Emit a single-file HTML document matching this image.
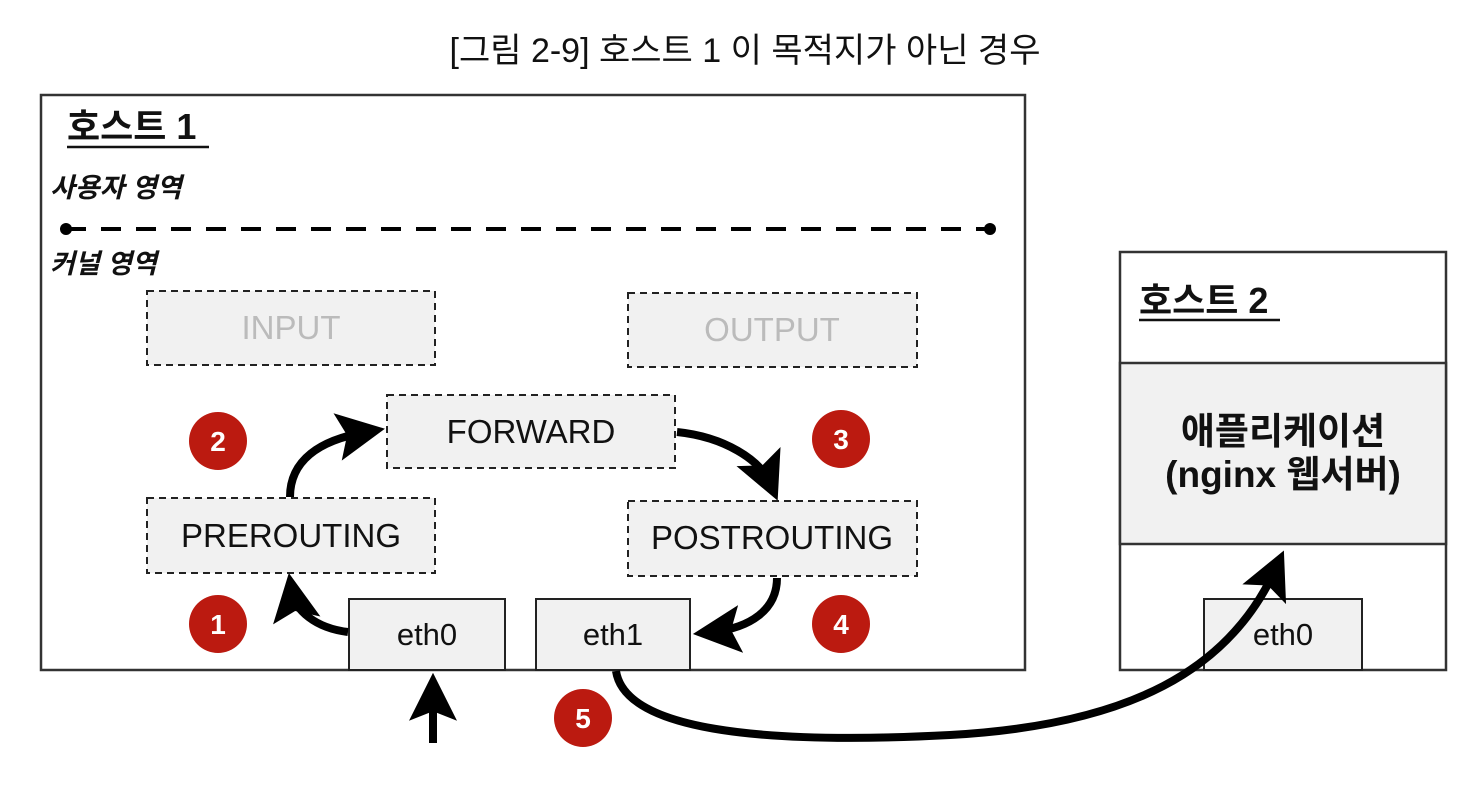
<!DOCTYPE html>
<html><head><meta charset="utf-8"><style>
html,body{margin:0;padding:0;background:#fff;}
svg{display:block;}
text{font-family:"Liberation Sans","Noto Sans CJK KR",sans-serif;}
</style></head><body>
<svg width="1480" height="790" viewBox="0 0 1480 790" xmlns="http://www.w3.org/2000/svg">
<defs>
<marker id="ah" markerWidth="6" markerHeight="6" refX="3.6" refY="3" orient="auto" markerUnits="strokeWidth">
<path d="M0,0 L6,3 L0,6 L1.2,3 z" fill="#000"/>
</marker>
</defs>
<text x="745" y="62" font-size="34" text-anchor="middle" fill="#111">[그림 2-9] 호스트 1 이 목적지가 아닌 경우</text>

<rect x="41" y="95" width="984" height="575" fill="#fff" stroke="#333" stroke-width="2.5"/>
<text x="67" y="139" font-size="36" font-weight="bold" fill="#111">호스트 1</text>
<line x1="67" y1="147" x2="209" y2="147" stroke="#111" stroke-width="2.5"/>
<text x="50" y="197" font-size="27" font-weight="bold" font-style="italic" fill="#111">사용자 영역</text>
<line x1="66" y1="229" x2="990" y2="229" stroke="#000" stroke-width="4" stroke-dasharray="20,15"/>
<circle cx="66" cy="229" r="6" fill="#000"/>
<circle cx="990" cy="229" r="6" fill="#000"/>
<text x="50" y="273" font-size="27" font-weight="bold" font-style="italic" fill="#111">커널 영역</text>

<g stroke="#222" stroke-width="2" stroke-dasharray="7,5" fill="#f1f1f1">
<rect x="147" y="291" width="288" height="74"/>
<rect x="628" y="293" width="289" height="74"/>
<rect x="387" y="395" width="288" height="73"/>
<rect x="147" y="498" width="288" height="75"/>
<rect x="628" y="501" width="289" height="75"/>
</g>
<g font-size="33" text-anchor="middle">
<text x="291" y="339" fill="#bbb">INPUT</text>
<text x="772" y="341" fill="#bbb">OUTPUT</text>
<text x="531" y="443" fill="#111">FORWARD</text>
<text x="291" y="547" fill="#111">PREROUTING</text>
<text x="772" y="549" fill="#111">POSTROUTING</text>
</g>

<g stroke="#222" stroke-width="2" fill="#f1f1f1">
<rect x="349" y="599" width="156" height="71"/>
<rect x="536" y="599" width="154" height="71"/>
</g>
<text x="427" y="645" font-size="31" text-anchor="middle" fill="#111">eth0</text>
<text x="613" y="645" font-size="31" text-anchor="middle" fill="#111">eth1</text>

<rect x="1120" y="252" width="326" height="418" fill="#fff" stroke="#333" stroke-width="2.5"/>
<rect x="1120" y="363" width="326" height="181" fill="#f1f1f1" stroke="#333" stroke-width="2.5"/>
<text x="1139" y="313" font-size="36" font-weight="bold" fill="#111">호스트 2</text>
<line x1="1139" y1="320" x2="1280" y2="320" stroke="#111" stroke-width="2.5"/>
<text x="1283" y="444" font-size="37" font-weight="bold" text-anchor="middle" fill="#111">애플리케이션</text>
<text x="1283" y="487" font-size="37" font-weight="bold" text-anchor="middle" fill="#111">(nginx 웹서버)</text>
<rect x="1204" y="599" width="158" height="71" fill="#f1f1f1" stroke="#222" stroke-width="2"/>
<text x="1283" y="645" font-size="31" text-anchor="middle" fill="#111">eth0</text>

<g fill="none" stroke="#000" stroke-width="8">
<path d="M348,632 C315,628 295,610 292,592" marker-end="url(#ah)"/>
<path d="M290,497 C290,460 320,440 366,432" marker-end="url(#ah)"/>
<path d="M677,432 C725,437 760,460 770,483" marker-end="url(#ah)"/>
<path d="M777,578 C777,610 750,628 712,632" marker-end="url(#ah)"/>
<path d="M433,743 L433,692" marker-end="url(#ah)"/>
<path d="M616,671 C625,730 760,745 950,735 C1130,725 1230,670 1276,568" marker-end="url(#ah)"/>
</g>

<g font-size="28" font-weight="bold" fill="#fff" text-anchor="middle">
<circle cx="218" cy="624" r="29" fill="#bb1a10"/><text x="218" y="634">1</text>
<circle cx="218" cy="441" r="29" fill="#bb1a10"/><text x="218" y="451">2</text>
<circle cx="841" cy="439" r="29" fill="#bb1a10"/><text x="841" y="449">3</text>
<circle cx="841" cy="624" r="29" fill="#bb1a10"/><text x="841" y="634">4</text>
<circle cx="583" cy="718" r="29" fill="#bb1a10"/><text x="583" y="728">5</text>
</g>
</svg>
</body></html>
